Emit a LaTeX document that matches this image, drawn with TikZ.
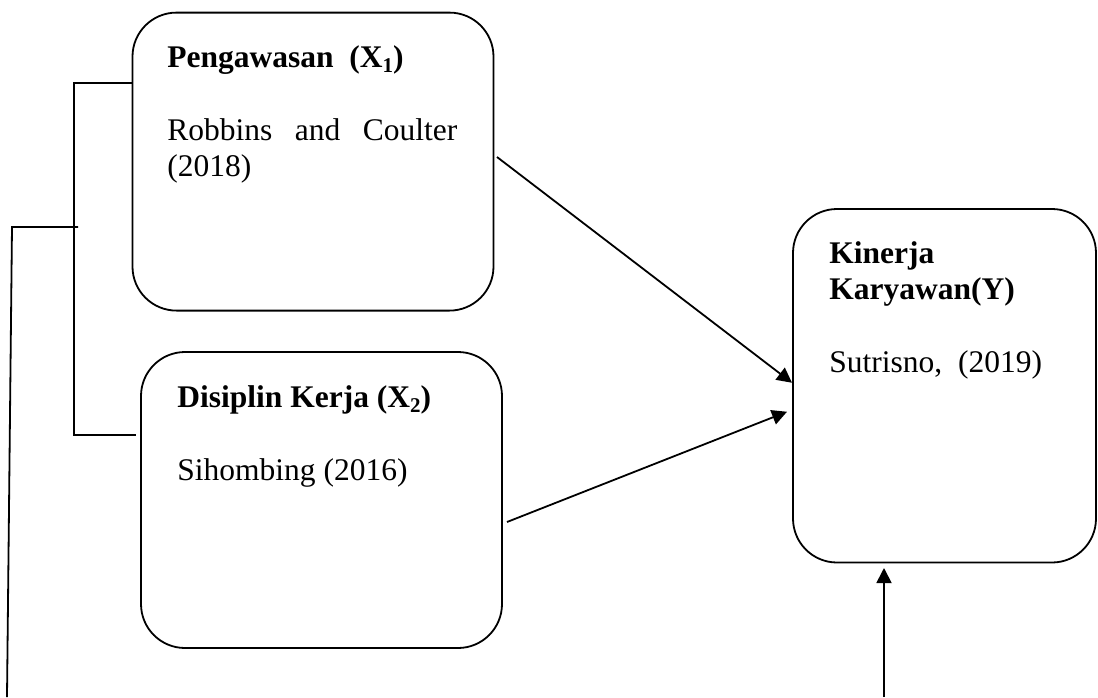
\documentclass[tikz,border=0pt]{standalone}
\usepackage{fontspec}
\setmainfont{Liberation Serif}
\usetikzlibrary{arrows.meta,positioning}
\newcommand{\sub}[1]{\raisebox{-2.2pt}{\fontsize{10.5}{12}\selectfont #1}}
\tikzset{
  var/.style={
    draw,rectangle,rounded corners=22pt,line width=0.9pt,
    inner sep=0pt,outer sep=0pt
  },
  txt/.style={anchor=base west,inner sep=0pt,align=left,
    font=\fontsize{15.75}{18.1}\selectfont},
  conn/.style={-{Triangle[length=7.5pt,width=7.5pt]},line width=0.9pt},
  link/.style={line width=0.9pt}
}

\begin{document}
\begin{tikzpicture}[x=0.5pt,y=-0.5pt]
\useasboundingbox (0,0) rectangle (1098,697);

\node[var,minimum width=180.5pt,minimum height=149pt] (peng) at (313,161.6) {};
\node[var,minimum width=180.5pt,minimum height=148pt] (disip) at (321.5,500) {};
\node[var,minimum width=151.5pt,minimum height=176.75pt] (kin) at (944.5,385.75) {};

% text blocks, placed by the baseline of their last line
\node[txt] (peng-t) at ([shift={(34.5,163.6)}]peng.north west) {
\textbf{Pengawasan\ \ (X\sub{1})}\\[18.1pt]
\makebox[145pt][s]{Robbins and Coulter}\\
(2018)
};

\node[txt] (disip-t) at ([shift={(36,128)}]disip.north west) {
\textbf{Disiplin Kerja (X\sub{2})}\\[18.1pt]
Sihombing (2016)
};

\node[txt] (kin-t) at ([shift={(36,163)}]kin.north west) {
\textbf{Kinerja}\\
\textbf{Karyawan(Y)}\\[18.1pt]
Sutrisno,\ \ (2019)
};

% bracket on the left
\coordinate (bt) at (74,83);
\coordinate (bb) at (74,435);
\coordinate (bm) at (78,227);
\coordinate (lt) at (12,227);
\coordinate (lb) at (7,697);
\draw[link] (bt -| peng.west) -- (bt) -- (bb) -- ([shift={(-5,0)}]bb -| disip.west);
\draw[link] (bm) -- (lt) -- (lb);

% arrows into Y
\draw[conn] ([shift={(3.5,-4.6)}]peng.east) -- ([shift={(-1,-3)}]kin.west);
\draw[conn] ([shift={(5,22)}]disip.east) -- ([shift={(-6,26)}]kin.west);
\coordinate (kb) at (884,697);
\draw[conn] (kb) -- ([shift={(0,5.5)}]kb |- kin.south);

\end{tikzpicture}
\end{document}
